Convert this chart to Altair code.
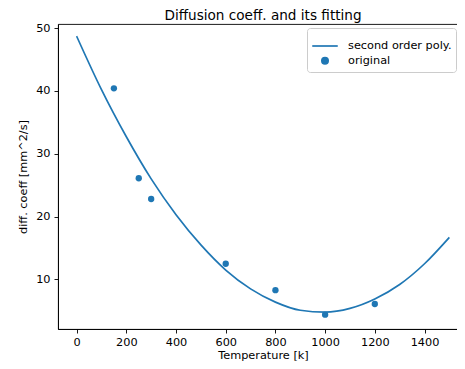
import altair as alt
import pandas as pd

# original points
temp = [150, 250, 300, 600, 800, 1000, 1200]
coeff = [40.4, 26.1, 22.8, 12.5, 8.3, 4.4, 6.1]

# fitted curve
fit_x = [0, 100, 200, 300, 400, 500, 600, 700, 800, 900, 1000, 1100, 1200, 1300, 1400, 1500]
fit_y = [48.7, 40.2, 32.7, 26.0, 20.3, 15.5, 11.5, 8.5, 6.4, 5.1, 4.8, 5.4, 6.9, 9.2, 12.5, 16.7]

x_ticks = [0, 200, 400, 600, 800, 1000, 1200, 1400]
y_ticks = [10, 20, 30, 40, 50]

LINE = "second order poly."
PTS = "original"

pts = pd.DataFrame({"x": temp, "y": coeff, "series": PTS})
fit = pd.DataFrame({"x": fit_x, "y": fit_y, "series": LINE})

blue = "#1f77b4"
xs = alt.Scale(domain=[-75, 1575], nice=False, zero=False)
ys = alt.Scale(domain=[2.12, 50.64], nice=False, zero=False)
cs = alt.Scale(domain=[LINE, PTS], range=[blue, blue])
ss = alt.Scale(domain=[LINE, PTS], range=["stroke", "circle"])
zs = alt.Scale(domain=[LINE, PTS], range=[650, 40])

xax = alt.Axis(values=x_ticks, title="Temperature [k]", grid=False, format="d",
               titlePadding=2, labelPadding=3.5)
yax = alt.Axis(values=y_ticks, title="diff. coeff [mm^2/s]", grid=False, format="d", titlePadding=7)

legend = alt.Legend(title=None, orient="none", legendX=249, legendY=4, fillColor="white",
                    strokeColor="#cccccc", cornerRadius=3, padding=4,
                    labelFontSize=11.3, labelColor="black", symbolStrokeColor=blue,
                    symbolStrokeWidth=1.7, rowPadding=2, labelOffset=9)

line = alt.Chart(fit).mark_line(strokeWidth=1.7, interpolate="monotone").encode(
    x=alt.X("x:Q", scale=xs, axis=xax),
    y=alt.Y("y:Q", scale=ys, axis=yax),
    color=alt.Color("series:N", scale=cs, legend=legend),
)

points = alt.Chart(pts).mark_point(filled=True, opacity=1).encode(
    x=alt.X("x:Q", scale=xs),
    y=alt.Y("y:Q", scale=ys),
    color=alt.Color("series:N", scale=cs, legend=legend),
    shape=alt.Shape("series:N", scale=ss, legend=legend),
    size=alt.Size("series:N", scale=zs, legend=legend),
)

chart = alt.layer(line, points).properties(
    width=410, height=305,
    title=alt.TitleParams("Diffusion coeff. and its fitting", fontSize=13.6, font="DejaVu Sans",
                          fontWeight="normal", color="black", anchor="middle", offset=3, dy=4),
    autosize=alt.AutoSizeParams(type="none"),
    padding={"left": 50, "top": 16, "right": -11, "bottom": 32},
).configure(font="DejaVu Sans").configure_view(
    stroke="black", strokeWidth=0.9
).configure_axis(
    domainColor="black", domainWidth=0.9, tickColor="black", tickWidth=0.9, tickSize=4,
    labelFontSize=11.3, labelColor="black", titleFontSize=11.3, titleFontWeight="normal",
    titleColor="black", labelPadding=4, labelFont="DejaVu Sans", titleFont="DejaVu Sans"
).configure_axisX(labelFlush=False)

chart.save("out.html", embed_options={"renderer": "svg", "actions": False})
